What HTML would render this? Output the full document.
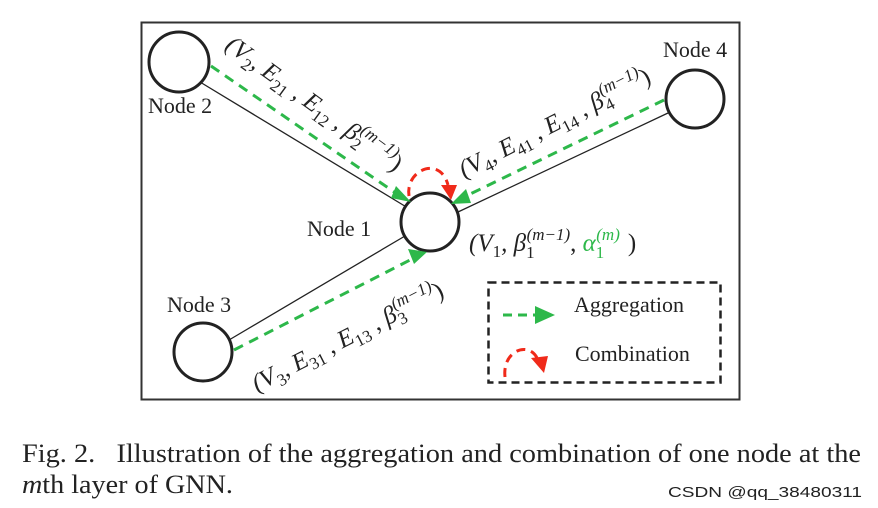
<!DOCTYPE html>
<html><head><meta charset="utf-8"><style>
html,body{margin:0;padding:0;background:#fff;}
svg{display:block;}
text{font-family:"Liberation Serif",serif;fill:#222;}
</style></head><body>
<svg width="878" height="508" viewBox="0 0 878 508" xmlns="http://www.w3.org/2000/svg">
<rect x="141.5" y="22.5" width="598" height="377" fill="none" stroke="#333" stroke-width="2"/>
<!-- solid edges -->
<line x1="200" y1="82" x2="408" y2="208" stroke="#222" stroke-width="1.3"/>
<line x1="668" y1="113" x2="458" y2="212" stroke="#222" stroke-width="1.3"/>
<line x1="229" y1="340" x2="405" y2="236" stroke="#222" stroke-width="1.3"/>
<!-- circles -->
<circle cx="179" cy="62" r="30" fill="#fff" stroke="#222" stroke-width="3"/>
<circle cx="695" cy="99" r="29" fill="#fff" stroke="#222" stroke-width="3"/>
<circle cx="430" cy="222" r="29" fill="#fff" stroke="#222" stroke-width="3"/>
<circle cx="203" cy="352" r="29" fill="#fff" stroke="#222" stroke-width="3"/>
<!-- green dashed arrows -->
<line x1="211" y1="66" x2="400" y2="196" stroke="#2db84a" stroke-width="3" stroke-dasharray="10,7"/>
<path d="M396,186 L411,202 L391,198 Z" fill="#2db84a"/>
<line x1="664" y1="100" x2="462" y2="198" stroke="#2db84a" stroke-width="3" stroke-dasharray="10,7"/>
<path d="M466,189 L451,204 L471,203 Z" fill="#2db84a"/>
<line x1="234" y1="350" x2="414" y2="258" stroke="#2db84a" stroke-width="3" stroke-dasharray="10,7"/>
<path d="M408,249 L427,252 L414,264 Z" fill="#2db84a"/>
<!-- red arc -->
<path d="M409,196 C405,170 440,155 448,185" fill="none" stroke="#f02a1a" stroke-width="3" stroke-dasharray="9,6"/>
<path d="M441,185 L457,185 L451,200 Z" fill="#f02a1a"/>
<!-- node labels -->
<text x="148" y="113" font-size="22">Node 2</text>
<text x="663" y="57" font-size="22">Node 4</text>
<text x="307" y="236" font-size="22">Node 1</text>
<text x="167" y="312" font-size="22">Node 3</text>
<!-- edge labels -->
<g transform="translate(224,48) rotate(36)">
<text font-size="25" font-style="italic">(V<tspan font-size="17" dy="6" font-style="normal">2</tspan><tspan dy="-6">, E</tspan><tspan font-size="17" dy="6" font-style="normal">21</tspan><tspan dy="-6"> , E</tspan><tspan font-size="17" dy="6" font-style="normal">12</tspan><tspan dy="-6"> , β</tspan><tspan font-size="17" dy="6" font-style="normal">2</tspan><tspan font-size="17" dy="-17" dx="-8">(m−1)</tspan><tspan dy="11" font-style="normal">)</tspan></text>
</g>
<g transform="translate(464,178) rotate(-27)">
<text font-size="25" font-style="italic">(V<tspan font-size="17" dy="6" font-style="normal">4</tspan><tspan dy="-6">, E</tspan><tspan font-size="17" dy="6" font-style="normal">41</tspan><tspan dy="-6"> , E</tspan><tspan font-size="17" dy="6" font-style="normal">14</tspan><tspan dy="-6"> , β</tspan><tspan font-size="17" dy="6" font-style="normal">4</tspan><tspan font-size="17" dy="-17" dx="-8">(m−1)</tspan><tspan dy="11" font-style="normal">)</tspan></text>
</g>
<g transform="translate(257,392) rotate(-27)">
<text font-size="25" font-style="italic">(V<tspan font-size="17" dy="6" font-style="normal">3</tspan><tspan dy="-6">, E</tspan><tspan font-size="17" dy="6" font-style="normal">31</tspan><tspan dy="-6"> , E</tspan><tspan font-size="17" dy="6" font-style="normal">13</tspan><tspan dy="-6"> , β</tspan><tspan font-size="17" dy="6" font-style="normal">3</tspan><tspan font-size="17" dy="-17" dx="-8">(m−1)</tspan><tspan dy="11" font-style="normal">)</tspan></text>
</g>
<text x="469" y="251" font-size="25" font-style="italic">(V<tspan font-size="17" dy="6" font-style="normal">1</tspan><tspan dy="-6">, β</tspan><tspan font-size="17" dy="7" font-style="normal">1</tspan><tspan font-size="17" dy="-18" dx="-8">(m−1)</tspan><tspan dy="11" font-style="normal">, </tspan><tspan fill="#2db84a">α</tspan><tspan fill="#2db84a" font-size="17" dy="7" font-style="normal">1</tspan><tspan fill="#2db84a" font-size="17" dy="-18" dx="-8">(m)</tspan><tspan dy="11" dx="8" font-style="normal">)</tspan></text>
<!-- legend -->
<rect x="488.5" y="282.5" width="232" height="100" fill="none" stroke="#222" stroke-width="2.5" stroke-dasharray="8,5"/>
<line x1="503" y1="315" x2="538" y2="315" stroke="#2db84a" stroke-width="3" stroke-dasharray="9,6"/>
<path d="M535,306 L555,315 L535,324 Z" fill="#2db84a"/>
<text x="574" y="312" font-size="22">Aggregation</text>
<path d="M505,377 C502,350 530,340 538,360" fill="none" stroke="#f02a1a" stroke-width="3" stroke-dasharray="9,6"/>
<path d="M531,358 L548,356 L544,373 Z" fill="#f02a1a"/>
<text x="575" y="361" font-size="22">Combination</text>
<!-- caption -->
<text x="22" y="462" font-size="26" textLength="839" lengthAdjust="spacingAndGlyphs" fill="#111" xml:space="preserve">Fig. 2.   Illustration of the aggregation and combination of one node at the</text>
<text x="22" y="493" font-size="26" textLength="211" lengthAdjust="spacingAndGlyphs" fill="#111"><tspan font-style="italic">m</tspan>th layer of GNN.</text>
<text x="668" y="497" font-size="15" fill="#b0b0b0" style="font-family:'Liberation Sans',sans-serif" textLength="194" lengthAdjust="spacingAndGlyphs">CSDN @qq_38480311</text>
</svg>
</body></html>
